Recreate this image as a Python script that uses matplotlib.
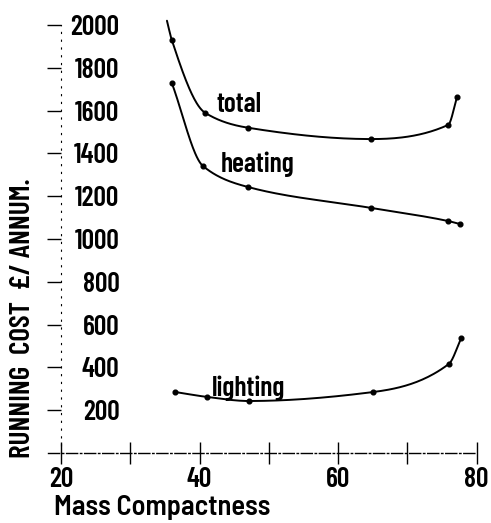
import numpy as np
import matplotlib
matplotlib.use("Agg")
import matplotlib.pyplot as plt

# ---- data ----
total_x = [35.3, 36.0, 40.8, 47.0, 64.8, 75.9, 77.2]
total_y = [2020, 1930, 1590, 1520, 1467, 1533, 1664]

heating_x = [36.0, 40.5, 47.0, 64.8, 75.9, 77.6]
heating_y = [1729, 1341, 1243, 1145, 1084, 1070]

lighting_x = [36.5, 41.1, 47.1, 65.1, 76.0, 77.8]
lighting_y = [285, 262, 243, 285, 416, 537]

x_ticks = [20, 30, 40, 50, 60, 70, 80]
x_tick_labels = ["20", "", "40", "", "60", "", "80"]
y_ticks = [200, 400, 600, 800, 1000, 1200, 1400, 1600, 1800, 2000]
y_tick_labels = [str(v) for v in y_ticks]

FONT = ["Barlow Condensed", "DejaVu Sans"]
plt.rcParams["font.family"] = FONT
plt.rcParams["font.weight"] = 600


def pchip(x, y, n=40):
    x = np.asarray(x, float)
    y = np.asarray(y, float)
    h = np.diff(x)
    d = np.diff(y) / h
    m = np.zeros_like(y)
    for k in range(1, len(x) - 1):
        if d[k - 1] * d[k] <= 0:
            m[k] = 0.0
        else:
            w1 = 2 * h[k] + h[k - 1]
            w2 = h[k] + 2 * h[k - 1]
            m[k] = (w1 + w2) / (w1 / d[k - 1] + w2 / d[k])
    m[0] = d[0]
    m[-1] = d[-1]
    xs, ys = [], []
    for k in range(len(x) - 1):
        t = np.linspace(0, 1, n, endpoint=(k == len(x) - 2))
        h00 = 2 * t**3 - 3 * t**2 + 1
        h10 = t**3 - 2 * t**2 + t
        h01 = -2 * t**3 + 3 * t**2
        h11 = t**3 - t**2
        xs.append(x[k] + t * h[k])
        ys.append(h00 * y[k] + h10 * h[k] * m[k] + h01 * y[k + 1] + h11 * h[k] * m[k + 1])
    return np.concatenate(xs), np.concatenate(ys)


W, H = 491, 523
fig = plt.figure(figsize=(W / 100, H / 100), dpi=100)

xlim = (18, 81.5)
ylim = (-250, 2100)
px_per_x = 6.925
px_per_y = 0.214
x0_px, y0_px = 61, 453
left = x0_px + (xlim[0] - 20) * px_per_x
right = x0_px + (xlim[1] - 20) * px_per_x
bottom = y0_px - ylim[0] * px_per_y
top = y0_px - ylim[1] * px_per_y
ax = fig.add_axes([left / W, 1 - bottom / H, (right - left) / W, (bottom - top) / H])
ax.set_xlim(*xlim)
ax.set_ylim(*ylim)
ax.patch.set_alpha(0)

for xs, ys, mk in [(total_x, total_y, list(range(1, len(total_x)))),
                   (heating_x, heating_y, None),
                   (lighting_x, lighting_y, None)]:
    sx, sy = pchip(xs, ys)
    ax.plot(sx, sy, color="black", lw=1.4, solid_capstyle="round")
    pts_x = xs if mk is None else [xs[i] for i in mk]
    pts_y = ys if mk is None else [ys[i] for i in mk]
    ax.plot(pts_x, pts_y, ls="none", marker="o", ms=3.4, color="black")

# spines
for s in ["top", "right"]:
    ax.spines[s].set_visible(False)
ax.spines["bottom"].set_position(("data", 0))
ax.spines["bottom"].set_bounds(18.1, 80)
ax.spines["bottom"].set_linestyle((0, (8, 2, 1, 2)))
ax.spines["bottom"].set_linewidth(1.0)
ax.spines["left"].set_position(("data", 20))
ax.spines["left"].set_bounds(0, 2000)
ax.spines["left"].set_linestyle((0, (1, 6)))
ax.spines["left"].set_linewidth(0.8)

ax.set_xticks(x_ticks)
ax.set_xticklabels(x_tick_labels, fontsize=20)
ax.tick_params(axis="x", direction="inout", length=16.5, width=1.0, pad=2)

ax.set_yticks(y_ticks)
ax.set_yticklabels(y_tick_labels, fontsize=20)
ax.tick_params(axis="y", direction="out", length=10, width=1.0, pad=-52)
for lab in ax.get_yticklabels():
    lab.set_horizontalalignment("right")

# curve labels
ax.text(42.5, 1593, "total", fontsize=20, ha="left", va="baseline")
ax.text(43.0, 1313, "heating", fontsize=20, ha="left", va="baseline")
ax.text(41.8, 266, "lighting", fontsize=20, ha="left", va="baseline")

# axis titles
fig.text(54 / W, 1 - 508 / H, "Mass Compactness", fontsize=20.5, ha="left", va="center",
         family=["Barlow Semi Condensed", "DejaVu Sans"])
fig.text(23 / W, 1 - 318 / H, "RUNNING  COST  £/ ANNUM.", fontsize=21, rotation=90,
         ha="center", va="center")

fig.savefig("out.png", dpi=100)
